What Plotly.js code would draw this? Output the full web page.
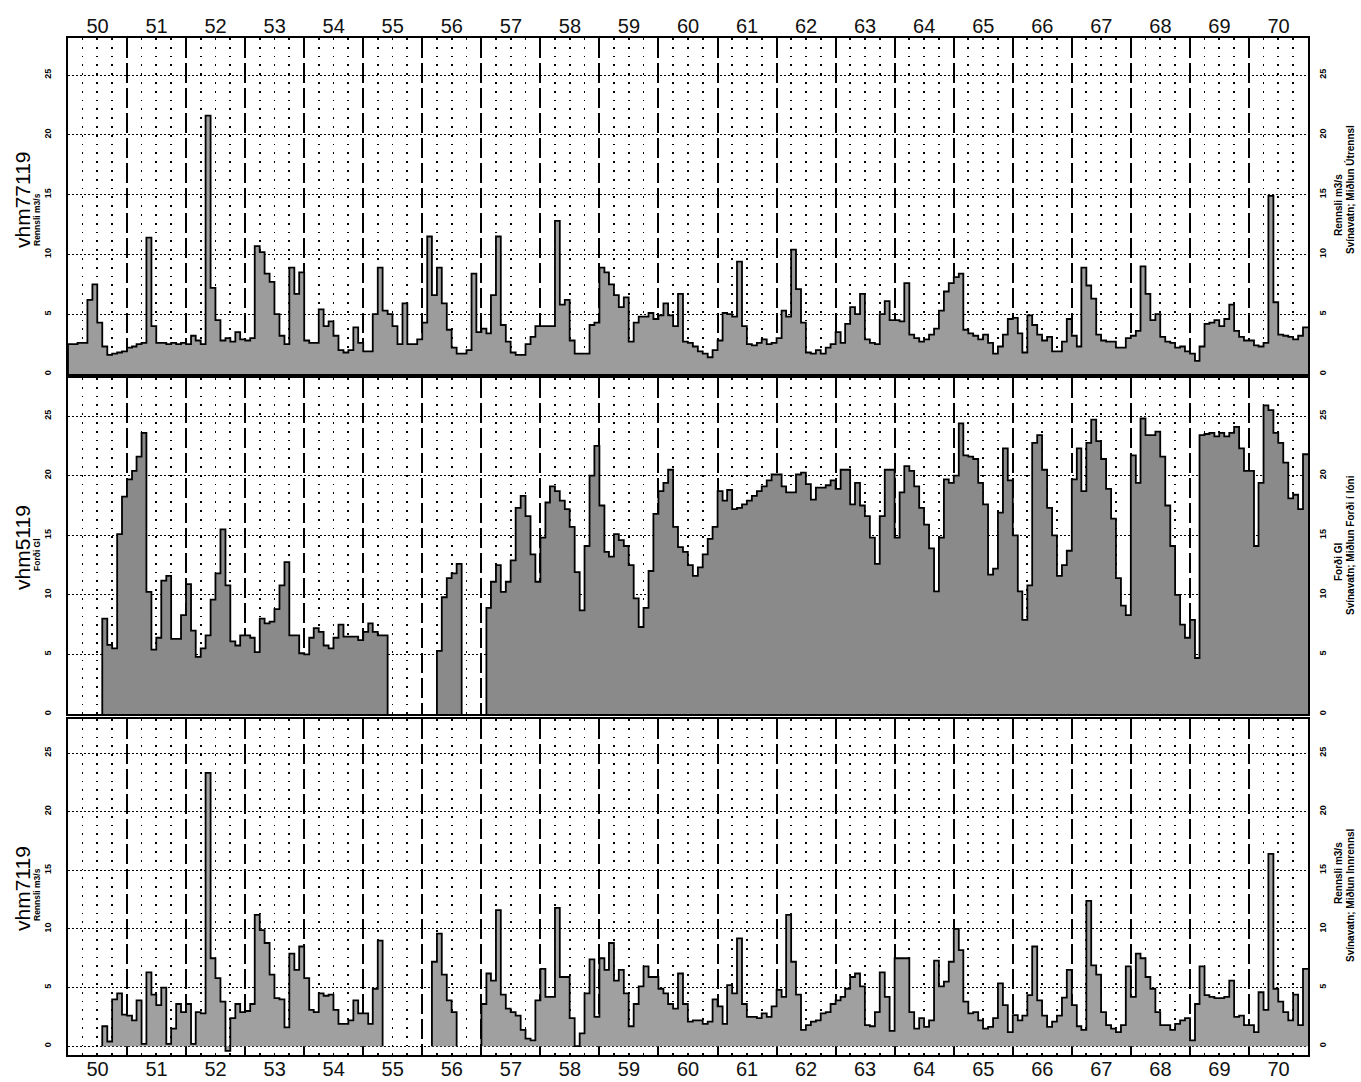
<!DOCTYPE html>
<html><head><meta charset="utf-8">
<script src="https://cdn.plot.ly/plotly-3.0.1.min.js"></script>
<style>html,body{margin:0;padding:0;background:#fff}</style>
</head><body>
<div id="chart" style="width:1361px;height:1082px"></div>
<script>
// ---- data: monthly values, 1950-1970 (12 per year), null = missing ----
const firstYear = 1950;
const nYears = 21;
const yearTicks = ["50","51","52","53","54","55","56","57","58","59","60","61","62","63","64","65","66","67","68","69","70"];
const yTicks = [0, 5, 10, 15, 20, 25];

// vhm77119  Rennsli m3/s  (Svínavatn; Miðlun Útrennsl)
const outflow77119 = [
  2.5,2.5,2.6,2.6,6.2,7.5,4.3,2.3,1.6,1.7,1.8,1.9,
  2.2,2.3,2.5,2.6,11.4,4.0,2.6,2.6,2.5,2.6,2.5,2.6,
  2.5,3.2,2.8,2.5,21.6,7.2,4.5,2.8,3.0,2.7,3.5,2.9,
  2.8,3.0,10.7,10.2,8.4,7.7,5.0,3.2,2.5,8.9,6.7,8.5,
  2.8,2.6,2.6,5.4,4.0,4.4,3.2,2.0,1.8,2.0,3.9,2.6,
  1.9,1.9,5.0,8.9,5.3,5.0,4.0,2.5,5.9,2.5,2.5,2.9,
  4.3,11.5,6.6,8.9,5.9,3.7,2.2,1.7,1.7,2.0,8.4,3.5,
  3.8,3.4,6.6,11.5,4.1,2.7,1.8,1.6,1.6,2.5,3.1,4.0,
  4.0,4.0,4.0,12.8,5.8,6.2,2.8,1.7,1.7,1.7,4.1,4.3,
  8.9,8.5,7.5,6.6,5.6,6.4,2.7,4.3,4.8,4.8,5.1,4.6,
  4.9,5.9,4.9,4.0,6.7,2.7,2.6,2.3,1.9,1.7,1.4,2.0,
  2.8,5.1,5.0,4.8,9.4,4.0,2.5,2.4,2.6,2.9,2.5,2.6,
  3.0,5.3,4.8,10.4,7.1,4.3,1.8,1.7,2.0,1.7,2.2,2.5,
  3.5,2.6,4.2,5.6,5.0,6.7,2.9,2.6,2.5,5.0,6.1,4.5,
  4.5,4.4,7.6,3.3,3.0,2.7,2.9,3.3,3.8,5.3,6.9,7.6,
  8.1,8.4,3.7,3.4,3.2,2.9,3.3,2.6,1.7,2.3,3.3,4.6,
  4.7,3.4,1.8,4.9,4.1,3.3,2.8,3.1,1.9,1.9,2.7,4.6,
  3.2,2.3,8.9,7.4,6.3,3.3,2.8,2.7,2.7,2.2,2.2,3.0,
  3.2,3.6,9.0,6.7,4.5,5.0,3.1,2.7,2.6,2.2,2.3,1.9,
  1.7,1.1,2.3,4.2,4.3,4.5,4.0,4.6,5.8,3.6,3.1,2.8,
  2.8,2.4,2.3,2.6,14.9,6.0,3.3,3.2,3.1,2.9,3.2,3.9
];

// vhm5119  Forði Gl  (Svínavatn; Miðlun Forði í lóni)
const storage5119 = [
  null,null,null,null,null,null,null,8.0,5.8,5.5,15.1,18.25,
  19.7,20.4,21.6,23.6,10.25,5.4,6.4,11.2,11.6,6.3,6.3,8.3,
  10.9,7.0,4.8,5.5,6.6,9.6,11.8,15.5,10.8,6.1,5.75,6.6,
  6.6,6.4,5.2,8.0,7.6,7.75,8.8,10.8,12.75,6.6,6.6,5.1,
  5.0,6.4,7.2,6.9,5.75,5.5,6.4,7.5,6.5,6.5,6.5,6.2,
  6.9,7.6,6.9,6.6,6.6,null,null,null,null,null,null,null,
  null,null,null,5.3,9.8,11.4,11.8,12.6,null,null,null,null,
  null,8.9,11.1,12.5,10.25,11.1,12.9,17.3,18.3,16.6,13.4,11.1,
  14.8,17.75,19.1,18.7,17.9,17.2,15.7,11.9,8.7,14.1,20.0,22.5,
  17.5,13.6,13.2,15.1,14.6,14.1,12.5,9.7,7.3,8.9,12.0,16.8,
  18.7,19.4,20.5,15.7,14.0,13.6,12.5,11.6,12.3,13.4,14.7,15.7,
  18.7,17.9,18.8,17.2,17.3,17.6,17.9,18.3,18.7,19.1,19.6,20.1,
  20.1,19.1,18.6,18.6,20.1,20.25,19.3,18.0,19.0,19.0,19.2,19.6,
  18.9,20.5,20.5,17.6,19.4,17.5,16.6,14.8,12.6,16.6,20.5,20.5,
  14.8,18.6,20.8,20.4,19.1,17.3,15.9,13.9,10.3,14.8,19.7,19.4,
  20.0,24.4,21.7,21.6,21.4,19.4,17.6,11.7,12.2,16.9,22.3,19.6,
  15.0,10.3,7.9,10.8,22.75,23.4,20.5,17.3,15.0,11.6,12.5,13.7,
  19.7,22.3,18.7,22.75,24.7,22.9,21.4,18.9,16.4,11.4,9.1,8.3,
  21.7,19.4,24.8,23.4,23.4,23.7,21.6,17.5,14.1,10.0,7.5,6.4,
  7.9,4.7,23.4,23.5,23.6,23.3,23.6,23.3,23.6,24.1,22.3,20.4,
  20.4,14.1,19.4,25.9,25.5,23.6,22.75,21.1,18.1,18.4,17.2,21.8
];

// vhm7119  Rennsli m3/s  (Svínavatn; Miðlun Innrennsl)
const inflow7119 = [
  null,null,null,null,null,null,null,1.7,0.4,4.0,4.5,2.7,
  2.6,2.2,3.9,0.2,6.3,4.4,3.5,5.0,0.2,1.5,3.6,2.9,
  3.6,0.2,2.9,2.8,23.3,7.5,5.8,3.8,-0.4,2.4,3.6,2.9,
  3.0,3.6,11.2,9.9,8.8,6.1,4.1,4.0,1.6,7.9,6.5,8.5,
  5.8,3.1,2.9,4.5,4.3,4.4,3.1,1.9,1.9,2.2,3.9,2.8,
  2.8,1.9,4.9,9.0,null,null,null,null,null,null,null,null,
  null,null,7.2,9.6,6.1,3.9,2.9,null,null,null,null,null,
  3.6,6.2,5.6,11.6,4.4,3.2,2.9,2.6,1.4,0.65,0.5,3.9,
  6.6,4.2,4.2,11.8,5.9,5.9,2.4,0.0,1.1,4.5,7.4,2.5,
  7.5,6.5,8.8,5.6,6.5,4.5,1.7,3.6,5.1,6.8,5.9,5.9,
  4.9,4.5,3.6,3.2,6.2,3.6,2.1,2.2,2.2,1.9,2.1,4.0,
  3.4,1.9,5.2,4.5,9.2,3.6,2.5,2.5,2.4,2.8,2.5,3.4,
  4.8,4.2,11.2,7.2,4.4,1.4,1.8,2.1,2.2,2.8,2.9,3.6,
  3.9,4.2,4.9,5.9,6.2,5.1,1.8,1.7,2.9,6.3,4.2,1.3,
  7.5,7.5,7.5,2.9,1.5,2.4,1.65,2.2,7.3,5.1,5.5,7.2,
  10.0,8.2,3.8,2.8,2.9,2.2,1.5,1.65,2.4,5.35,3.5,1.2,
  2.65,2.2,2.6,4.35,8.5,3.9,2.6,1.65,2.1,2.6,4.15,6.5,
  3.5,1.7,1.4,12.4,6.9,6.1,2.9,1.8,1.5,1.2,1.8,6.8,
  4.2,7.9,7.5,5.9,4.9,2.9,1.8,1.8,1.4,1.9,2.2,2.4,
  0.5,3.6,6.8,4.35,4.2,4.1,4.1,4.2,5.6,2.5,2.6,1.8,
  1.8,1.2,4.6,3.1,16.4,4.9,3.8,2.9,2.2,4.4,1.8,6.6
];

// ---- build step outlines (month start dates) ----
function monthDate(i){
  const y = firstYear + Math.floor(i/12), m = (i%12)+1;
  return y + "-" + (m<10?"0":"") + m + "-01";
}
function stepTrace(vals, xa, ya, fill){
  const xs=[], ys=[]; let inSeg=false;
  for(let i=0;i<vals.length;i++){
    const v=vals[i];
    if(v===null){
      if(inSeg){ xs.push(monthDate(i)); ys.push(vals[i-1]); xs.push(monthDate(i)); ys.push(0); xs.push(null); ys.push(null); inSeg=false; }
      continue;
    }
    if(!inSeg){ xs.push(monthDate(i)); ys.push(0); inSeg=true; }
    xs.push(monthDate(i)); ys.push(v);
  }
  if(inSeg){ xs.push(monthDate(vals.length)); ys.push(vals[vals.length-1]); }
  return {x:xs, y:ys, xaxis:xa, yaxis:ya, type:'scatter', mode:'lines',
    line:{shape:'hv', color:'#000', width:1.8}, fill:'tozeroy', fillcolor:fill,
    connectgaps:false, hoverinfo:'skip', showlegend:false};
}
function dummy(xa, ya){
  return {x:[monthDate(0)], y:[0], xaxis:xa, yaxis:ya, type:'scatter', mode:'markers',
    marker:{opacity:0}, hoverinfo:'skip', showlegend:false};
}

const data = [
  stepTrace(outflow77119,'x3','y3','#9c9c9c'),
  stepTrace(storage5119,'x2','y2','#8a8a8a'),
  stepTrace(inflow7119,'x','y','#a0a0a0'),
  dummy('x3','y4'), dummy('x2','y5'), dummy('x','y6')
];

const FONT = 'Liberation Sans, Arial, Helvetica, sans-serif';
const xr = [monthDate(0), monthDate(nYears*12)];
function xAxis(anchor, side, labels){
  return {type:'date', range:xr, anchor:anchor, side:side,
    tick0:monthDate(0), dtick:'M12', tickformat:'%y', ticklabelmode:'period',
    showticklabels:labels, ticks:'', ticklabelstandoff:-5,
    tickfont:{family:FONT, size:20, color:'#111'},
    showgrid:true, gridcolor:'#000', gridwidth:2, griddash:'20px,5px',
    minor:{dtick:'M3', tick0:monthDate(0), showgrid:true, gridcolor:'#000', gridwidth:1.8, griddash:'1.8px,7px'},
    showline:true, linecolor:'#000', linewidth:1.6, mirror:true, zeroline:false};
}
function yAxis(domain, range, anchor){
  return {domain:domain, range:range, anchor:anchor, tickvals:yTicks, ticks:'',
    tickangle:-90, tickfont:{family:FONT, size:9, color:'#000', weight:'bold'},
    ticklabelstandoff:12,
    showgrid:true, gridcolor:'#000', gridwidth:1, griddash:'2px,2px',
    showline:true, linecolor:'#000', linewidth:1.6, mirror:true, zeroline:false};
}
function yRight(over, range, anchor){
  return {overlaying:over, side:'right', range:range, anchor:anchor, tickvals:yTicks, ticks:'',
    tickangle:-90, tickfont:{family:FONT, size:9, color:'#000', weight:'bold'},
    ticklabelstandoff:8, showgrid:false, showline:false, zeroline:false};
}

const H=1082, PT=38, PB=1055, PH=PB-PT;
const fy = px => (PB-px)/PH;
const topDom=[fy(374),1], midDom=[fy(714),fy(378)], botDom=[0,fy(719)];
const topR=[0,28.1], midR=[0,28.2], botR=[-0.75,27.9];

function ann(text, xref1, xshift, ypx, size, bold){
  return {text:text, xref:'paper', yref:'paper', x:xref1, y:fy(ypx), xshift:xshift,
    xanchor:'center', yanchor:'middle', textangle:-90, showarrow:false,
    font:{family:FONT, size:size, color:'#000', weight: bold?'bold':'normal'}};
}

const layout = {
  width:1361, height:H, paper_bgcolor:'#fff', plot_bgcolor:'#fff',
  margin:{l:68, r:53, t:PT, b:H-PB, pad:0},
  showlegend:false,
  xaxis: xAxis('y','bottom',true),
  xaxis2: xAxis('y2','bottom',false),
  xaxis3: xAxis('y3','top',true),
  yaxis: yAxis(botDom, botR, 'x'),
  yaxis2: yAxis(midDom, midR, 'x2'),
  yaxis3: yAxis(topDom, topR, 'x3'),
  yaxis4: yRight('y3', topR, 'x3'),
  yaxis5: yRight('y2', midR, 'x2'),
  yaxis6: yRight('y', botR, 'x'),
  annotations:[
    ann('vhm77119',0,-46,200,21,false),
    ann('Rennsli m3/s',0,-31,220,8.5,true),
    ann('vhm5119',0,-46,548,21,false),
    ann('Forði Gl',0,-31,555,8.5,true),
    ann('vhm7119',0,-46,889,21,false),
    ann('Rennsli m3/s',0,-31,895,8.5,true),
    ann('Rennsli m3/s',1,30,205,10,true),
    ann('Svínavatn; Miðlun Útrennsl',1,42,190,10,true),
    ann('Forði Gl',1,30,562,10,true),
    ann('Svínavatn; Miðlun Forði í lóni',1,42,545,10,true),
    ann('Rennsli m3/s',1,30,873,10,true),
    ann('Svínavatn; Miðlun Innrennsl',1,42,895,10,true)
  ]
};

Plotly.newPlot('chart', data, layout, {displayModeBar:false, staticPlot:true});
</script>
</body></html>
